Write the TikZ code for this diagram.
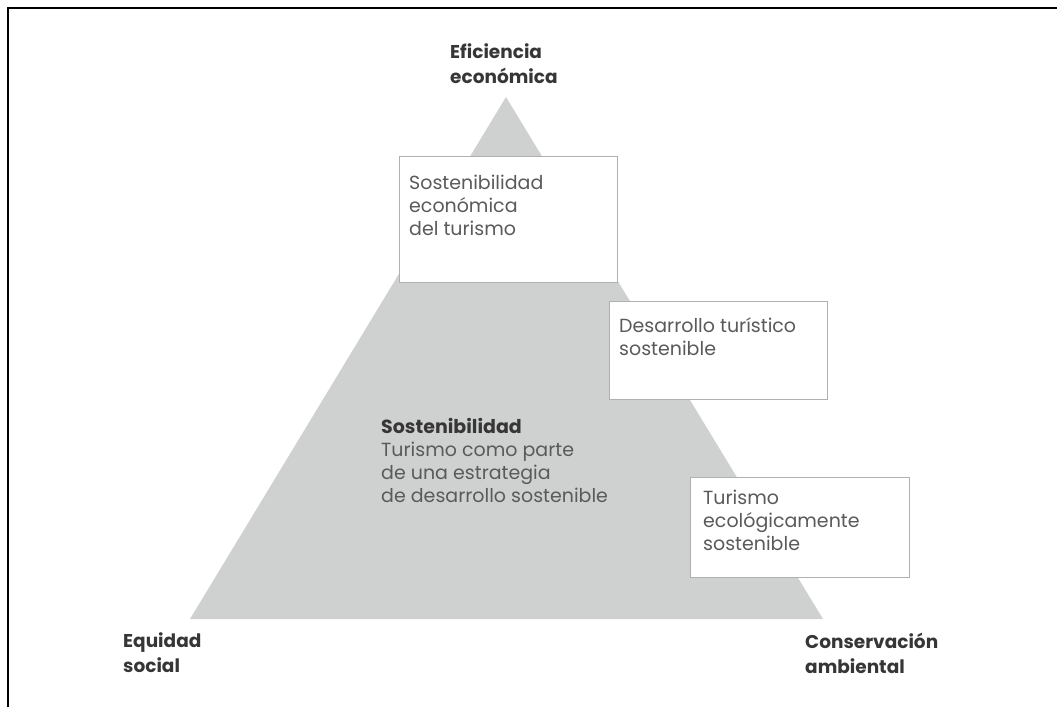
\documentclass[tikz,border=0pt]{standalone}
\usepackage{fontspec}
\setmainfont{Poppins}
\usepackage{xcolor}
\usepackage{tikz}
\usetikzlibrary{positioning,calc}
\definecolor{trigray}{HTML}{CFD1D0}
\definecolor{boxline}{HTML}{B0B0B0}
\definecolor{txtgray}{HTML}{5A5A5A}
\definecolor{lbldark}{HTML}{363636}

\begin{document}
\begin{tikzpicture}[
    x=1pt, y=-1pt,
    frame/.style={line width=1.6pt, draw=black},
    tri/.style={fill=trigray},
    blk/.style={draw=boxline, line width=0.9pt, fill=white, anchor=north west, inner sep=0pt},
    boxtxt/.style={anchor=base west, align=left, inner sep=0pt, text=txtgray, font={\fontsize{19}{23}\selectfont}},
    lbl/.style={anchor=base west, align=left, inner sep=0pt, text=lbldark, font={\bfseries\fontsize{18.5}{25}\selectfont}}
]
    \useasboundingbox (0,0) rectangle (1057,707);
    \draw[frame] (8,707) -- (8,8) -- (1057,8);

    % triangle
    \coordinate (apex) at (506,97);
    \coordinate (bl) at (190,619);
    \coordinate (br) at (823,619);
    \fill[tri] (apex) -- (bl) -- (br) -- cycle;

    % corner labels (placed at last baseline)
    \node[lbl] (eco) at (450,83) {Eficiencia\\económica};
    \node[lbl] (soc) at (123,672) {Equidad\\social};
    \node[lbl] (amb) at (805,673) {Conservación\\ambiental};

    % centre text
    \node[boxtxt] (sost) at (381,502) {\textbf{\color{lbldark}Sostenibilidad}\\Turismo como parte\\de una estrategia\\de desarrollo sostenible};

    % boxes
    \node[blk, minimum width=218pt, minimum height=126pt] (b1) at (399,156) {};
    \node[boxtxt] (t1) at (409,235) {Sostenibilidad\\económica\\del turismo};
    \node[blk, minimum width=218pt, minimum height=98pt] (b2) at (609,301) {};
    \node[boxtxt] (t2) at (619,355) {Desarrollo turístico\\sostenible};
    \node[blk, minimum width=219pt, minimum height=100pt] (b3) at (690,477) {};
    \node[boxtxt] (t3) at (703,550) {Turismo\\ecológicamente\\sostenible};
\end{tikzpicture}
\end{document}
